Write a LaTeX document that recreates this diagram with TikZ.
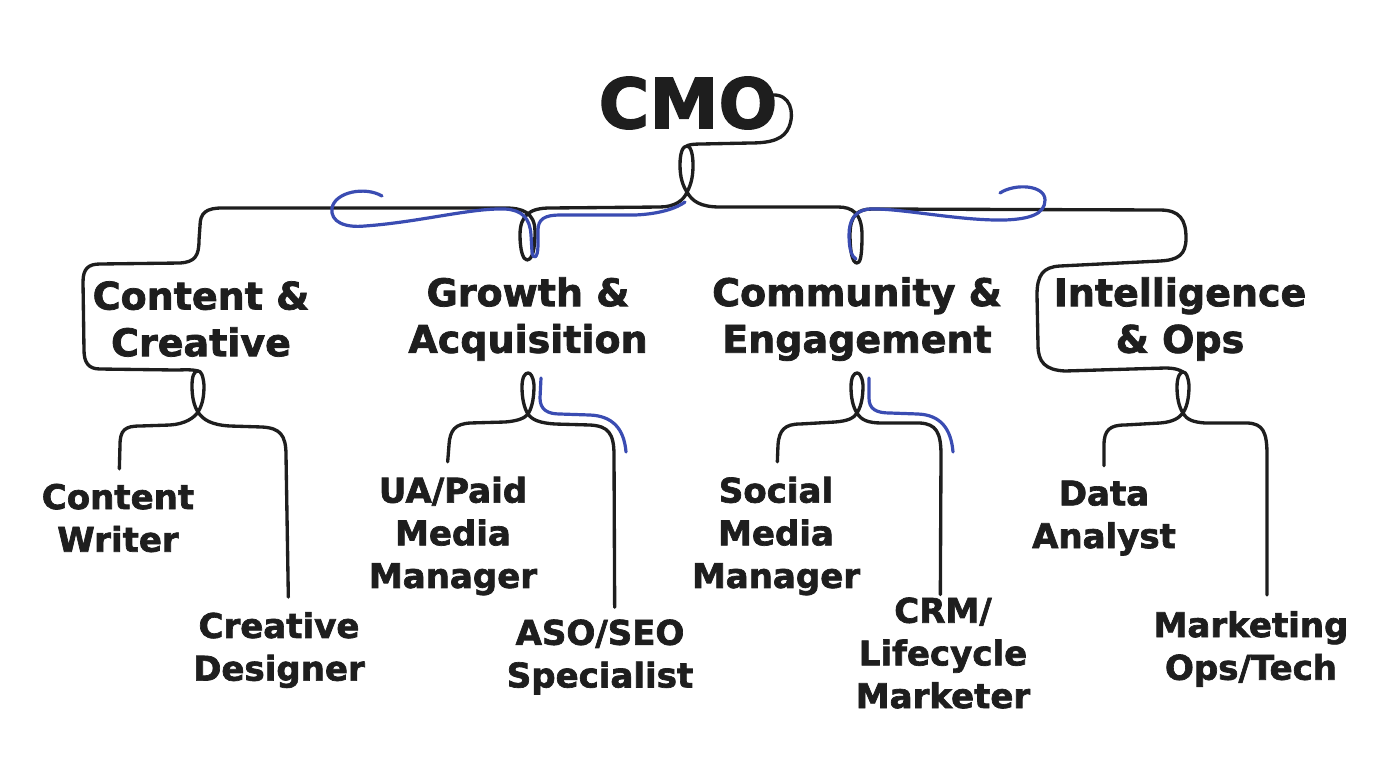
\documentclass[tikz,border=0pt]{standalone}
\usepackage{fontspec}
\setmainfont{DejaVu Sans}[BoldFeatures={FakeBold=2}]
\usetikzlibrary{positioning}

\definecolor{inkblack}{RGB}{30,30,30}
\definecolor{inkblue}{RGB}{58,76,178}

\tikzset{
  wire/.style={draw=inkblack, line width=2.5pt, line cap=round, line join=round},
  bluewire/.style={draw=inkblue, line width=2.4pt, line cap=round, line join=round},
  toplbl/.style={font=\fontsize{52}{60}\selectfont\bfseries, text=inkblack, inner sep=0pt},
  deptlbl/.style={font=\fontsize{28.5}{35}\selectfont\bfseries, text=inkblack, align=center, inner sep=0pt},
  rolelbl/.style={font=\fontsize{25.5}{32}\selectfont\bfseries, text=inkblack, align=center, inner sep=0pt}
}

\begin{document}
\begin{tikzpicture}[x=0.75pt, y=-0.75pt]

    \useasboundingbox (0,0) rectangle (1376,768);

    % head and departments
    \node[toplbl] (cmo) at (688,103) {CMO};

    \node[deptlbl] (content) at (201,319) {Content \&\\Creative};
    \node[deptlbl] (growth) at (528,319) {Growth \&\\Acquisition};
    \node[deptlbl] (community) at (857,319) {Community \&\\Engagement};
    \node[deptlbl] (intel) at (1180,319) {Intelligence\\\& Ops};

    % roles
    \node[rolelbl] (writer) at (118,518) {Content\\Writer};
    \node[rolelbl] (designer) at (279,650) {Creative\\Designer};
    \node[rolelbl] (paidmedia) at (453,536) {UA/Paid\\Media\\Manager};
    \node[rolelbl] (aso) at (600,657) {ASO/SEO\\Specialist};
    \node[rolelbl] (social) at (776,536) {Social\\Media\\Manager};
    \node[rolelbl] (crm) at (943,653) {CRM/\\Lifecycle\\Marketer};
    \node[rolelbl] (analyst) at (1104,518) {Data\\Analyst};
    \node[rolelbl] (mops) at (1251,649) {Marketing\\Ops/Tech};

    % loop tops
    \coordinate (kcmo) at (687,146);
    \coordinate (kcontent) at (198,371);
    \coordinate (kintel) at (1183,372);

    % from CMO into its loop
    \draw[wire] ([xshift=-4pt,yshift=6pt]cmo.east) .. controls (790,94) and (795,112) .. (789,127)
        .. controls (784,139) and (772,143) .. (750,143) -- (702,144)
        .. controls (692,144) and (688,145) .. (kcmo);

    % top bar
    \draw[wire] (kcontent) .. controls (190,369) and (185,370) .. (175,370) -- (100,369)
        .. controls (88,369) and (84,362) .. (84,350) -- (83,282)
        .. controls (83,269) and (88,264) .. (100,264) -- (180,263)
        .. controls (195,262) and (199,256) .. (199,240) -- (200,226)
        .. controls (200,213) and (206,208) .. (222,208) -- (505,208)
        .. controls (522,208) and (535,212) .. (535,232)
        .. controls (535,256) and (530,260) .. (527,260)
        .. controls (523,260) and (520,250) .. (520,235)
        .. controls (520,215) and (530,208) .. (550,208) -- (660,207)
        .. controls (675,207) and (684,200) .. (687,192)
        .. controls (692,183) and (693,174) .. (693,165)
        .. controls (693,152) and (690,146) .. (kcmo)
        .. controls (683,146) and (680,152) .. (680,165)
        .. controls (680,178) and (683,186) .. (687,192)
        .. controls (692,201) and (700,207) .. (720,207) -- (838,207)
        .. controls (852,207) and (862,213) .. (862,235)
        .. controls (862,258) and (860,263) .. (857,263)
        .. controls (852,263) and (850,250) .. (850,235)
        .. controls (850,215) and (858,209) .. (872,209) -- (1160,210)
        .. controls (1180,210) and (1186,220) .. (1186,238)
        .. controls (1186,255) and (1178,260) .. (1160,261) -- (1060,266)
        .. controls (1043,267) and (1037,275) .. (1037,295) -- (1038,345)
        .. controls (1038,362) and (1045,370) .. (1065,371) -- (1165,368)
        .. controls (1175,368) and (1180,370) .. (kintel);

    % branches
    \draw[wire] ([xshift=1pt,yshift=11pt]writer.north) -- (120,445)
        .. controls (120,430) and (125,426) .. (140,426) -- (170,425)
        .. controls (185,424) and (194,418) .. (198,412)
        .. controls (203,404) and (204,395) .. (204,385)
        .. controls (203,375) and (201,371) .. (kcontent)
        .. controls (194,371) and (192,376) .. (192,386)
        .. controls (192,397) and (194,406) .. (198,412)
        .. controls (203,420) and (212,425) .. (230,426) -- (262,427)
        .. controls (280,428) and (286,435) .. (286,455) -- ([xshift=7pt,yshift=11pt]designer.north);

    \draw[wire] ([xshift=-4pt,yshift=11pt]paidmedia.north) -- (449,445)
        .. controls (450,430) and (455,424) .. (470,423) -- (505,422)
        .. controls (518,421) and (525,418) .. (528,414)
        .. controls (533,406) and (534,395) .. (534,385)
        .. controls (533,375) and (530,373) .. (528,373)
        .. controls (525,373) and (522,377) .. (522,387)
        .. controls (522,398) and (524,408) .. (528,414)
        .. controls (532,420) and (540,423) .. (555,424) -- (590,425)
        .. controls (608,426) and (614,433) .. (614,455) -- ([xshift=11pt,yshift=9pt]aso.north);

    \draw[wire] ([xshift=1pt,yshift=11pt]social.north) -- (778,445)
        .. controls (779,430) and (785,424) .. (800,424) -- (835,422)
        .. controls (848,421) and (854,418) .. (857,413)
        .. controls (862,405) and (863,395) .. (863,385)
        .. controls (862,375) and (859,373) .. (857,373)
        .. controls (854,373) and (851,377) .. (851,387)
        .. controls (851,398) and (853,407) .. (857,413)
        .. controls (861,420) and (868,423) .. (882,423) -- (920,423)
        .. controls (936,424) and (941,432) .. (941,455) -- ([xshift=-2pt,yshift=2pt]crm.north);

    \draw[wire] ([yshift=11pt]analyst.north) -- (1104,445)
        .. controls (1104,430) and (1110,425) .. (1125,425) -- (1160,423)
        .. controls (1173,422) and (1179,418) .. (1183,413)
        .. controls (1188,405) and (1189,395) .. (1189,385)
        .. controls (1188,376) and (1186,372) .. (kintel)
        .. controls (1180,372) and (1177,377) .. (1177,387)
        .. controls (1177,398) and (1179,407) .. (1183,413)
        .. controls (1187,420) and (1193,422) .. (1205,423) -- (1248,423)
        .. controls (1263,424) and (1267,432) .. (1267,455) -- ([xshift=12pt,yshift=12pt]mops.north);

    % blue strokes
    \draw[bluewire] (382,196) .. controls (365,186) and (335,192) .. (332,208)
        .. controls (330,222) and (345,228) .. (365,226)
        .. controls (420,222) and (470,208) .. (505,209)
        .. controls (522,210) and (530,218) .. (531,235) -- (532,252)
        .. controls (533,260) and (538,259) .. (538,245) -- (538,230)
        .. controls (538,219) and (545,215) .. (560,215) -- (635,215)
        .. controls (660,214) and (677,208) .. (685,202);

    \draw[bluewire] (1000,193) .. controls (1015,183) and (1045,185) .. (1045,200)
        .. controls (1045,214) and (1030,219) .. (1005,220)
        .. controls (960,221) and (900,208) .. (870,209)
        .. controls (855,210) and (849,220) .. (849,235)
        .. controls (849,250) and (852,257) .. (856,259);

    \draw[bluewire] (541,378) -- (540,398) .. controls (540,410) and (548,414) .. (560,414) -- (590,415)
        .. controls (612,416) and (624,428) .. (626,452);

    \draw[bluewire] (869,378) -- (869,398) .. controls (869,409) and (876,413) .. (890,413) -- (918,414)
        .. controls (940,415) and (951,428) .. (953,452);

\end{tikzpicture}
\end{document}
